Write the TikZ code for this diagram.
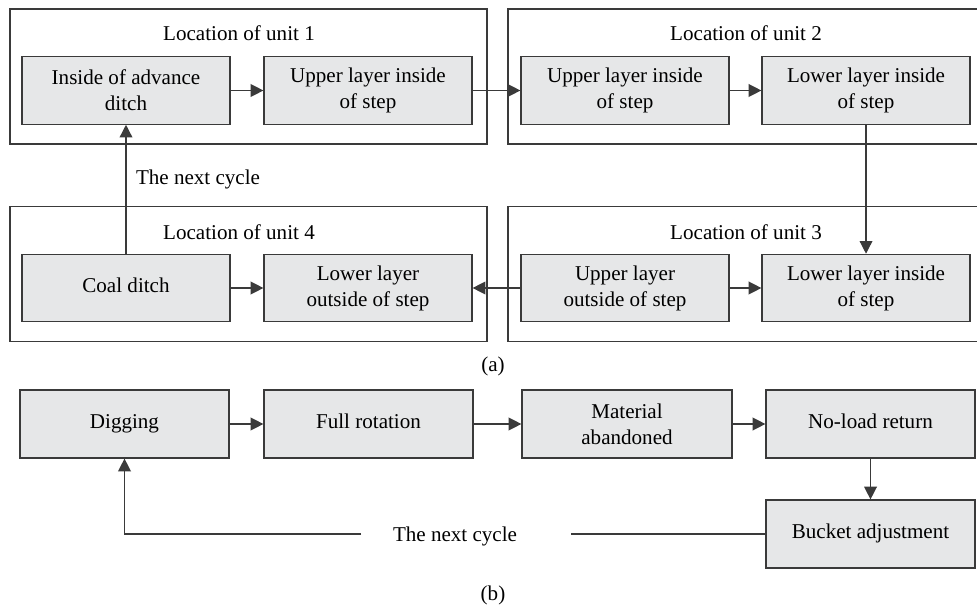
\documentclass[tikz,border=0pt]{standalone}
\usepackage{fontspec}
\setmainfont{Liberation Serif}
\usetikzlibrary{arrows.meta}
\definecolor{boxgray}{HTML}{E6E7E8}
\definecolor{linegray}{HTML}{3A3A3A}

\begin{document}
\begin{tikzpicture}[x=0.75pt,y=-0.75pt,
  font=\fontsize{15.8pt}{19.5pt}\selectfont,
  unit/.style={rectangle,draw=linegray,line width=0.9pt,minimum height=101.25pt},
  stage/.style={rectangle,draw=linegray,fill=boxgray,line width=0.9pt,align=center,
    minimum width=156pt,minimum height=50.5pt,inner sep=2pt},
  oneline/.style={text height=10.5pt,text depth=3.5pt},
  arr/.style={draw=linegray,line width=1pt,-{Triangle[length=9.5pt,width=9.5pt]}},
  ln/.style={draw=linegray,line width=1pt}]
\useasboundingbox (0,0) rectangle (977,609);

% (a)
\node[unit,minimum width=357.75pt] at (248.5,76.5) (u1) {};
\node[unit,minimum width=361.5pt] at (749,76.5) (u2) {};
\node[unit,minimum width=357.75pt] at (248.5,274) (u4) {};
\node[unit,minimum width=361.5pt] at (749,274) (u3) {};

\node[oneline] at (239,36) (l1) {Location of unit 1};
\node[oneline] at (746,36) (l2) {Location of unit 2};
\node[oneline] at (239,234.5) (l4) {Location of unit 4};
\node[oneline] at (746,234.5) (l3) {Location of unit 3};

\node[stage] at (126,90.5) (a1) {Inside of advance\\ditch};
\node[stage] at (368,90.5) (a2) {Upper layer inside\\of step};
\node[stage] at (625,90.5) (a3) {Upper layer inside\\of step};
\node[stage] at (866,90.5) (a4) {Lower layer inside\\of step};
\node[stage] at (866,288) (a5) {Lower layer inside\\of step};
\node[stage] at (625,288) (a6) {Upper layer\\outside of step};
\node[stage] at (368,288) (a7) {Lower layer\\outside of step};
\node[stage,oneline] at (126,288) (a8) {Coal ditch};

\node[oneline] at (198,180) (n1) {The next cycle};
\node[oneline] at (493,367) (ca) {(a)};

\draw[arr] (a1) -- (a2);
\draw[arr] (a2) -- (a3);
\draw[arr] (a3) -- (a4);
\draw[arr] (a4) -- (a5);
\draw[arr] (a6) -- (a5);
\draw[arr] (a6) -- (a7);
\draw[arr] (a8) -- (a7);
\draw[arr] (a8) -- (a1);

% (b)
\node[stage,oneline,minimum width=156.75pt,minimum height=51pt] at (124.5,424) (b1) {Digging};
\node[stage,oneline,minimum width=156.75pt,minimum height=51pt] at (368.5,424) (b2) {Full rotation};
\node[stage,minimum width=157.5pt,minimum height=51pt] at (627,424) (b3) {Material\\abandoned};
\node[stage,oneline,minimum width=156.75pt,minimum height=51pt] at (870.5,424) (b4) {No-load return};
\node[stage,oneline,minimum width=156.75pt,minimum height=51pt] at (870.5,534) (b5) {Bucket adjustment};

\node[oneline] at (455,537) (n2) {The next cycle};
\coordinate (r1) at (571,534);
\coordinate (r2) at (361,534);
\node[oneline] at (493,596) (cb) {(b)};

\draw[arr] (b1) -- (b2);
\draw[arr] (b2) -- (b3);
\draw[arr] (b3) -- (b4);
\draw[arr] (b4) -- (b5);
\draw[ln] (b5.west) -- (r1);
\draw[arr] (r2) -| (b1.south);
\end{tikzpicture}
\end{document}
